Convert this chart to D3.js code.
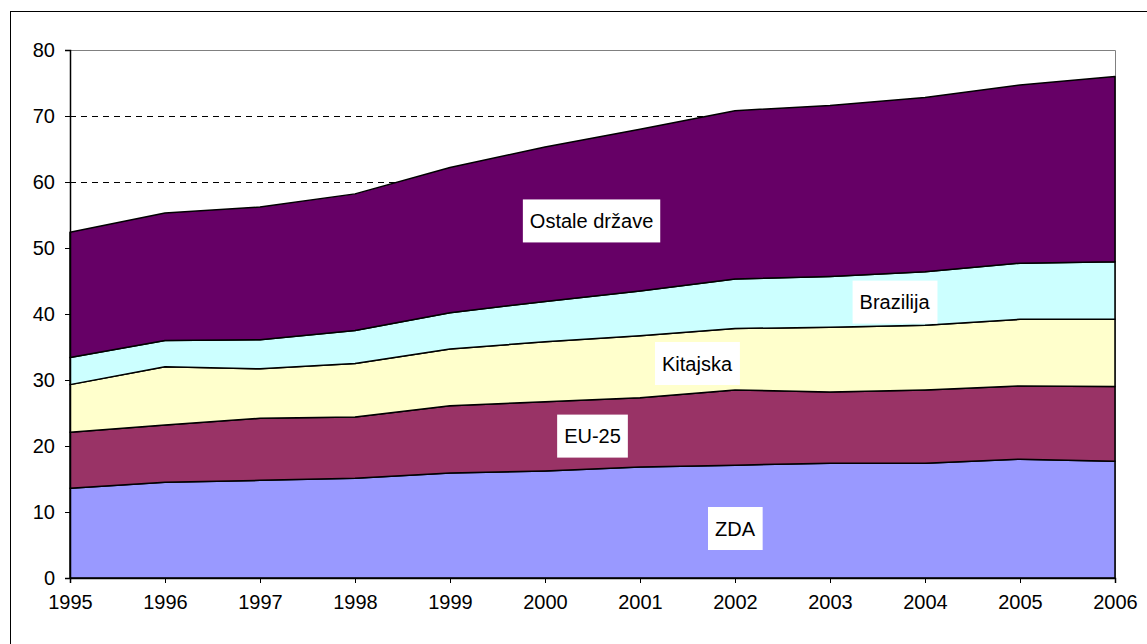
<!DOCTYPE html>
<html>
<head>
<meta charset="utf-8">
<script src="https://cdn.jsdelivr.net/npm/d3@7"></script>
<style>
    html, body { margin: 0; padding: 0; background: #ffffff; overflow: hidden; }
</style>
</head>
<body>
<div id="container"></div>
<script>
const years = [1995, 1996, 1997, 1998, 1999, 2000, 2001, 2002, 2003, 2004, 2005, 2006];
const seriesNames = ['ZDA', 'EU-25', 'Kitajska', 'Brazilija', 'Ostale države'];
const zda = [13.6, 14.5, 14.8, 15.1, 15.9, 16.2, 16.8, 17.1, 17.4, 17.4, 18.0, 17.7];
const eu25 = [8.5, 8.7, 9.4, 9.3, 10.2, 10.5, 10.5, 11.4, 10.8, 11.1, 11.1, 11.3];
const kitajska = [7.2, 8.8, 7.5, 8.1, 8.6, 9.1, 9.4, 9.3, 9.8, 9.8, 10.1, 10.2];
const brazilija = [4.1, 4.0, 4.4, 5.0, 5.5, 6.1, 6.8, 7.5, 7.7, 8.1, 8.5, 8.7];
const ostale = [19.0, 19.3, 20.1, 20.7, 22.0, 23.4, 24.5, 25.5, 25.9, 26.4, 27.0, 28.1];
const yTicks = [0, 10, 20, 30, 40, 50, 60, 70, 80];
const colors = ['#9999ff', '#993366', '#ffffcc', '#ccffff', '#660066'];

// label anchors in data units: [year, value]
const labelPos = [[2002.0, 7.5], [2000.5, 21.5], [2001.6, 32.5], [2003.68, 41.8], [2000.49, 54.1]];

const viewBox = { w: 1147, h: 644 };
const plot = { left: 70, right: 1115, top: 50, bottom: 578 };

const table = years.map((year, i) => ({
    year: year,
    'ZDA': zda[i],
    'EU-25': eu25[i],
    'Kitajska': kitajska[i],
    'Brazilija': brazilija[i],
    'Ostale države': ostale[i]
}));

const stacked = d3.stack().keys(seriesNames)(table);

const x = d3.scaleLinear().domain([1995, 2006]).range([plot.left, plot.right]);
const y = d3.scaleLinear().domain([0, 80]).range([plot.bottom, plot.top]);

const svg = d3.select('#container')
    .append('svg')
    .attr('width', viewBox.w)
    .attr('height', viewBox.h)
    .attr('viewBox', `0 0 ${viewBox.w} ${viewBox.h}`)
    .style('font-family', 'Arial, "Liberation Sans", sans-serif');

// outer chart frame
svg.append('rect')
    .attr('x', 10.5)
    .attr('y', 11.5)
    .attr('width', 1160)
    .attr('height', 660)
    .attr('fill', '#ffffff')
    .attr('stroke', '#000000')
    .attr('stroke-width', 1);

// dashed gridlines
svg.append('g')
    .selectAll('line')
    .data(yTicks.filter(d => d > 0 && d < 80)).enter()
    .append('line')
    .attr('x1', plot.left)
    .attr('x2', plot.right)
    .attr('y1', d => Math.round(y(d)) + 0.5)
    .attr('y2', d => Math.round(y(d)) + 0.5)
    .attr('stroke', '#000000')
    .attr('stroke-width', 1)
    .attr('stroke-dasharray', '6,5');

// plot area top / right border
svg.append('path')
    .attr('d', `M${plot.left},${plot.top + 0.5}H${plot.right + 0.5}V${plot.bottom}`)
    .attr('fill', 'none')
    .attr('stroke', '#808080')
    .attr('stroke-width', 1);

const area = d3.area()
    .x(d => x(d.data.year))
    .y0(d => y(d[0]))
    .y1(d => y(d[1]));

svg.append('g')
    .selectAll('path')
    .data(stacked).enter()
    .append('path')
    .attr('d', area)
    .attr('fill', (d, i) => colors[i])
    .attr('stroke', '#000000')
    .attr('stroke-width', 1.5)
    .attr('stroke-linejoin', 'round');

// axes
const yAxis = svg.append('g')
    .attr('transform', `translate(${plot.left},0)`)
    .call(d3.axisLeft(y).tickValues(yTicks).tickSize(5).tickPadding(10).tickFormat(d3.format('d')));

const xAxis = svg.append('g')
    .attr('transform', `translate(0,${plot.bottom})`)
    .call(d3.axisBottom(x).tickValues(years).tickSize(5).tickPadding(12).tickFormat(d3.format('d')));

[yAxis, xAxis].forEach(ax => {
    ax.select('.domain').attr('stroke', '#000000').attr('stroke-width', 1.5);
    ax.selectAll('.tick line').attr('stroke', '#000000').attr('stroke-width', 1);
    ax.selectAll('.tick text')
        .attr('fill', '#000000')
        .style('font-size', '20px')
        .style('font-family', 'Arial, "Liberation Sans", sans-serif');
});

// series labels in white boxes
const labels = svg.append('g')
    .selectAll('g')
    .data(seriesNames).enter()
    .append('g')
    .attr('transform', (d, i) => `translate(${x(labelPos[i][0])},${y(labelPos[i][1])})`);

labels.append('rect').attr('fill', '#ffffff');

labels.append('text')
    .attr('text-anchor', 'middle')
    .attr('dy', '0.35em')
    .attr('fill', '#000000')
    .style('font-size', '20px')
    .text(d => d);

labels.each(function () {
    const g = d3.select(this);
    const bb = g.select('text').node().getBBox();
    g.select('rect')
        .attr('x', bb.x - 7)
        .attr('y', -21.5)
        .attr('width', bb.width + 14)
        .attr('height', 43);
});
</script>
</body>
</html>
